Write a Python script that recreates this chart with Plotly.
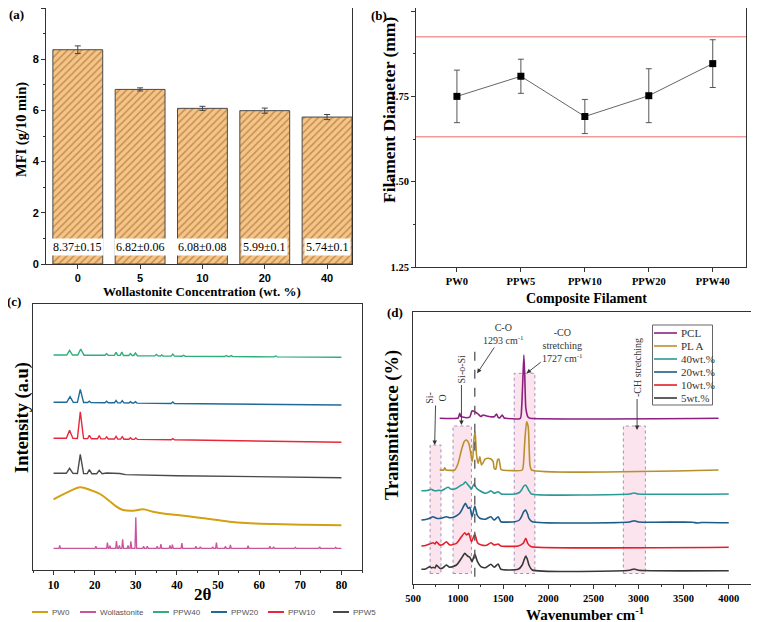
import plotly.graph_objects as go

W, H = 759, 622
OFF = 8  # the page body shifts the figure by this many pixels
SERIF = "Liberation Serif"
SANS = "Liberation Sans"
AX = "#333333"


def PX(x):
    return min(max((x - OFF) / W, 0), 1)


def PY(y):
    return min(max(1 - (y - OFF) / H, 0), 1)


# ---------------- (a) melt flow index ----------------
mfi_conc = ["0", "5", "10", "20", "40"]
mfi_mean = [8.37, 6.82, 6.08, 5.99, 5.74]
mfi_err = [0.15, 0.06, 0.08, 0.10, 0.10]
mfi_label_level = 0.67

# ---------------- (b) filament diameter ----------------
filaments = ["PW0", "PPW5", "PPW10", "PPW20", "PPW40"]
diam_mean = [1.750, 1.809, 1.691, 1.752, 1.846]
diam_err = [0.077, 0.050, 0.050, 0.079, 0.070]
diam_limits = [1.632, 1.925]

# ---------------- (c) XRD (offset, arbitrary units) ----------------
xrd_names = ["PW0", "Wollastonite", "PPW40", "PPW20", "PPW10", "PPW5"]
xrd_colors = ["#d4a012", "#c8559c", "#2fae7c", "#1f6b98", "#e8283a", "#4a4a4a"]

pw0_xy = [(10, 70.7), (13.2, 77.3), (16.5, 82.7), (18.9, 80.0), (21.3, 76.0),
          (23.3, 70.0), (25.3, 63.3), (26.9, 60.0), (29.4, 59.3), (31.8, 60.7),
          (34.2, 58.3), (37.5, 56.0), (40.7, 54.7), (45.5, 52.3), (52.8, 48.3),
          (56.8, 47.0), (63.3, 46.0), (71.3, 45.3), (80, 44.7)]

wol_base = 21.7
wol_peaks = [(11.5, 3), (20.3, 2), (23.1, 5.6), (23.7, 2.7), (25.3, 7.3), (26.0, 3),
             (26.8, 9), (28.1, 3), (28.8, 7), (30.0, 31), (31.9, 2), (32.8, 2),
             (35.2, 2), (36.1, 4.3), (38.3, 3), (38.9, 3.7), (41.2, 5.3), (44.6, 2),
             (45.7, 1.5), (48.7, 1.5), (49.6, 5.7), (51.8, 2), (53.0, 3.3), (57.3, 2.7),
             (62.6, 2), (63.5, 1.5), (68.8, 1), (74.7, 1.5), (78.6, 1)]

ppw40_xy = [(10, 215), (13.2, 215), (13.9, 219.7), (14.6, 215), (15.9, 215), (16.6, 221),
            (17.4, 214.8), (22.5, 214.7), (22.9, 216.2), (23.3, 214.7), (24.8, 214.6),
            (25.2, 217.6), (25.6, 214.6), (26.2, 214.6), (26.6, 217.9), (27.0, 214.5),
            (28.3, 214.5), (28.7, 216.5), (29.1, 214.5), (29.5, 214.5), (29.9, 217),
            (30.4, 214.3), (34.6, 214.1), (35.0, 215.6), (35.4, 214.1), (36.0, 214.0),
            (36.3, 215), (36.6, 214), (38.6, 213.9), (39.0, 215.9), (39.4, 213.9),
            (41.2, 213.8), (41.6, 214.8), (42.0, 213.8), (51.6, 213.5), (52.0, 214.5),
            (52.4, 213.5), (52.8, 213.5), (53.2, 214.4), (53.6, 213.4), (63.6, 213.1),
            (64.0, 214), (64.4, 213.1), (80, 212.8)]

ppw20_xy = [(10, 167.7), (13.2, 167.7), (14.0, 173.3), (14.8, 167.6), (15.8, 167.6),
            (16.5, 180.7), (17.3, 167.5), (18.3, 167.5), (18.7, 168.8), (19.1, 167.5),
            (22.5, 167.3), (22.9, 168.8), (23.3, 167.3), (24.8, 167.2), (25.2, 169.5),
            (25.6, 167.2), (26.3, 167.1), (26.7, 169.4), (27.1, 167.1), (28.3, 167.0),
            (28.7, 168.3), (29.1, 167.0), (29.5, 167.0), (29.9, 168.3), (30.3, 166.9),
            (38.6, 166.5), (39.0, 168.0), (39.4, 166.5), (80, 165.0)]

ppw10_xy = [(10, 131.7), (13.1, 131.7), (13.9, 139.7), (14.7, 131.6), (15.8, 131.5),
            (16.5, 158.2), (17.3, 131.4), (18.3, 131.4), (18.7, 134.7), (19.2, 131.3),
            (20.7, 131.2), (21.1, 134.5), (21.5, 131.2), (22.5, 131.1), (22.9, 133.1),
            (23.3, 131.0), (24.8, 131.0), (25.2, 133.7), (25.6, 130.9), (26.3, 130.9),
            (26.7, 133.3), (27.1, 130.8), (28.3, 130.7), (28.7, 132.2), (29.1, 130.7),
            (29.6, 130.6), (30.0, 132.1), (30.4, 130.6), (38.6, 130.2), (39.0, 131.4),
            (39.4, 130.2), (80, 127.7)]

ppw5_xy = [(10, 96.7), (13.1, 96.7), (13.9, 101.7), (14.7, 96.6), (15.8, 96.5),
           (16.5, 115.7), (17.3, 96.4), (18.2, 96.4), (18.7, 100.4), (19.3, 96.3),
           (20.5, 96.3), (21.1, 99.6), (21.8, 96.2), (22.9, 97.0), (26.1, 96.5),
           (27.5, 95.4), (40, 94.3), (80, 92.3)]

# ---------------- (d) FTIR (offset, arbitrary units) ----------------
ftir_names = ["PCL", "PL A", "40wt.%", "20wt.%", "10wt.%", "5wt.%"]
ftir_colors = ["#8e1f80", "#b8902e", "#2a9a96", "#1d5c87", "#e41e2a", "#383838"]

pcl_xy = [(796, 165.7), (1000, 166), (1018, 170.7), (1030, 167.5), (1050, 167),
          (1093, 166.3), (1130, 167), (1155, 173.3), (1185, 172.3), (1222, 170),
          (1250, 167.5), (1278, 169), (1315, 168), (1400, 167.3), (1426, 170),
          (1445, 166.5), (1463, 166.3), (1489, 169), (1510, 166), (1526, 165.7),
          (1690, 165.7), (1705, 177.3), (1718, 205), (1729, 229), (1740, 205),
          (1751, 175.7), (1777, 166.7), (1800, 165.7), (3887, 165.7)]

pla_xy = [(796, 114), (840, 114), (852, 116.3), (865, 114), (963, 114), (1000, 120.7),
          (1037, 134), (1067, 142.3), (1093, 144), (1118, 140.7), (1141, 130.7),
          (1155, 122.3), (1165, 128), (1174, 144), (1189, 152.3), (1197, 140),
          (1204, 129), (1222, 120.7), (1241, 127.3), (1259, 119), (1278, 121.3),
          (1296, 124.7), (1326, 125.7), (1363, 125), (1389, 122.3), (1400, 115.7),
          (1418, 114.7), (1437, 124), (1452, 125), (1474, 114.7), (1489, 114),
          (1711, 114), (1728, 125), (1740, 144), (1759, 162.3), (1777, 157.3),
          (1790, 130), (1796, 119), (1814, 114), (3887, 114)]

w40_xy = [(593, 93.3), (660, 93.5), (704, 94.7), (730, 93.5), (760, 93.3), (790, 93.8),
          (815, 93.3), (850, 95), (889, 96.7), (920, 95), (944, 94.7), (982, 95.7),
          (1037, 99), (1060, 100), (1081, 102.3), (1111, 99), (1130, 97), (1148, 94.7),
          (1165, 98), (1178, 100), (1204, 95.7), (1241, 93.3), (1303, 90.7),
          (1340, 92), (1363, 93.3), (1400, 90.7), (1444, 92.3), (1481, 90),
          (1629, 90), (1680, 91.5), (1703, 94), (1725, 97.5), (1748, 99), (1770, 96),
          (1785, 93.3), (1814, 90), (2900, 90), (2950, 91), (3000, 90), (4000, 90)]

w20_xy = [(593, 64), (640, 64.5), (685, 65.7), (722, 67.3), (760, 65.7), (815, 65.7),
          (870, 67.3), (907, 66.3), (963, 67.3), (1018, 70.7), (1044, 74.7),
          (1081, 80.7), (1111, 75.7), (1130, 76.7), (1155, 67.3), (1185, 78),
          (1211, 69), (1241, 65.7), (1303, 64.7), (1363, 67.3), (1400, 64),
          (1444, 67.3), (1474, 62.3), (1629, 62.3), (1680, 64), (1703, 67.3),
          (1725, 72), (1748, 74), (1770, 70), (1785, 65.7), (1822, 62.3), (2900, 62),
          (2950, 63.3), (3000, 62), (3600, 61.8), (3650, 61), (3700, 61.5), (4000, 61.3)]

w10_xy = [(593, 38), (640, 38.5), (685, 40), (722, 41.3), (745, 40), (760, 42.3),
          (796, 39), (830, 39.5), (870, 42.3), (907, 39), (982, 40.7), (1037, 47.3),
          (1074, 51.3), (1093, 49), (1118, 50.7), (1148, 42.3), (1185, 49.7),
          (1215, 41.3), (1259, 39), (1315, 38.7), (1363, 41.3), (1400, 39),
          (1444, 40), (1474, 38), (1666, 38), (1722, 40.7), (1751, 45.7), (1770, 41),
          (1785, 39), (1814, 37.3), (4000, 36.7)]

w5_xy = [(593, 14.7), (640, 15), (685, 17.3), (705, 16), (722, 16.7), (745, 16),
         (760, 19), (796, 15.7), (830, 16), (870, 19), (907, 16.7), (982, 19),
         (1037, 25.7), (1074, 30.7), (1104, 28), (1130, 26.7), (1155, 22.3),
         (1185, 30), (1215, 22.3), (1252, 17.3), (1303, 16.3), (1363, 19.7),
         (1400, 16.7), (1444, 20), (1474, 14.7), (1666, 14.7), (1711, 19),
         (1735, 25), (1751, 28), (1770, 24), (1785, 19), (1822, 14), (2900, 13.7),
         (2950, 15), (3000, 13.7), (4000, 13.3)]

# band boxes: (label, x0, x1, top level)
ftir_bands = [("Si-O", 690, 810, 139), ("Si-O-Si", 944, 1148, 158),
              ("-CO", 1622, 1851, 210.7), ("-CH", 2832, 3076, 158)]
band_bottom = 10.5
co_line_x = 1185

fig = go.Figure()

# ---- (a) ----
fig.add_trace(go.Bar(
    x=mfi_conc, y=mfi_mean, xaxis="x", yaxis="y", width=0.8,
    marker=dict(color="#f6c585", line=dict(color="#4a4a4a", width=1),
                pattern=dict(shape="/", fillmode="overlay", fgcolor="#8d5a2b",
                             size=5, solidity=0.3)),
    error_y=dict(type="data", array=mfi_err, color="#444", thickness=1, width=3),
    showlegend=False))

# ---- (b) ----
fig.add_trace(go.Scatter(
    x=filaments, y=diam_mean, xaxis="x2", yaxis="y2", mode="lines+markers",
    line=dict(color="#666", width=1),
    marker=dict(symbol="square", size=7, color="black"),
    error_y=dict(type="data", array=diam_err, color="#555", thickness=1, width=3),
    showlegend=False))

# ---- (c) ----
wol_x, wol_y = [10], [wol_base]
for c, h in wol_peaks:
    wol_x += [c - 0.2, c, c + 0.2]
    wol_y += [wol_base, wol_base + h, wol_base]
wol_x.append(80)
wol_y.append(wol_base)

xrd_series = [
    ([p[0] for p in pw0_xy], [p[1] for p in pw0_xy], "spline", 2),
    (wol_x, wol_y, "linear", 1.3),
    ([p[0] for p in ppw40_xy], [p[1] for p in ppw40_xy], "linear", 1.4),
    ([p[0] for p in ppw20_xy], [p[1] for p in ppw20_xy], "linear", 1.4),
    ([p[0] for p in ppw10_xy], [p[1] for p in ppw10_xy], "linear", 1.4),
    ([p[0] for p in ppw5_xy], [p[1] for p in ppw5_xy], "linear", 1.4),
]
for (xs, ys, shp, lw), name, col in zip(xrd_series, xrd_names, xrd_colors):
    fig.add_trace(go.Scatter(x=xs, y=ys, xaxis="x3", yaxis="y3", mode="lines",
                             name=name, line=dict(color=col, width=lw, shape=shp),
                             showlegend=False))

# ---- (d) ----
ftir_series = [pcl_xy, pla_xy, w40_xy, w20_xy, w10_xy, w5_xy]
for xy, name, col in zip(ftir_series, ftir_names, ftir_colors):
    fig.add_trace(go.Scatter(x=[p[0] for p in xy], y=[p[1] for p in xy],
                             xaxis="x4", yaxis="y4", mode="lines", name=name,
                             line=dict(color=col, width=1.6, shape="spline", smoothing=0.5),
                             showlegend=False))

shapes = []
annotations = []


def ptext(txt, cx, cy, font, angle=0, xanchor="center"):
    return dict(x=PX(cx), y=PY(cy), xref="paper", yref="paper", text=txt,
                textangle=angle, showarrow=False, xanchor=xanchor, yanchor="middle",
                font=font)


# (a) value labels
for i, (m, e) in enumerate(zip(mfi_mean, mfi_err)):
    annotations.append(dict(x=i, y=mfi_label_level, xref="x", yref="y",
                            text=f"{m:.2f}±{e:g}", showarrow=False,
                            xanchor="center", yanchor="middle",
                            bgcolor="white", borderpad=1,
                            font=dict(family=SERIF, size=12, color="black")))

# (b) limit lines
for lim in diam_limits:
    shapes.append(dict(type="line", xref="x2 domain", yref="y2", x0=0, x1=1,
                       y0=lim, y1=lim, line=dict(color="#f29b9b", width=1.5)))

# (d) band boxes and C-O line
for _, x0, x1, top in ftir_bands:
    shapes.append(dict(type="rect", xref="x4", yref="y4", x0=x0, x1=x1,
                       y0=band_bottom, y1=top, layer="below",
                       fillcolor="rgba(248,196,218,0.45)",
                       line=dict(color="#a390b8", width=1, dash="dot")))
shapes.append(dict(type="line", xref="x4", yref="y4", x0=co_line_x, x1=co_line_x,
                   y0=7.3, y1=233.3, line=dict(color="#555", width=1.3, dash="dash")))

# (d) labels with arrows: text, head (x, y), text centre (ax, ay), angle
afont = dict(family=SERIF, size=10, color="#333")
ftir_notes = [
    ("Si-<br>O", 740, 139, 752, 186, -90),
    ("Si-o-Si", 1037, 159, 1037, 215, -90),
    ("C-O<br>1293 cm<sup>-1</sup>", 1211, 210.7, 1500, 250, 0),
    ("-CO<br>stretching<br>1727 cm<sup>-1</sup>", 1759, 210.7, 2160, 239, 0),
    ("-CH stretching", 2984, 154, 2984, 216, -90),
]
for txt, hx, hy, tx, ty, ang in ftir_notes:
    annotations.append(dict(x=hx, y=hy, ax=tx, ay=ty, xref="x4", yref="y4",
                            axref="x4", ayref="y4", text=txt, textangle=ang,
                            showarrow=True, arrowhead=2, arrowsize=1, arrowwidth=0.9,
                            arrowcolor="#333", font=afont))

# (c) legend row (drawn in paper space)
c_leg_x = [32, 80, 153, 211, 268, 333]
c_leg_y = 612
for name, col, lx in zip(xrd_names, xrd_colors, c_leg_x):
    shapes.append(dict(type="line", xref="paper", yref="paper", x0=PX(lx), x1=PX(lx + 16),
                       y0=PY(c_leg_y), y1=PY(c_leg_y), line=dict(color=col, width=2)))
    annotations.append(ptext(name, lx + 18, c_leg_y,
                             dict(family=SANS, size=8, color="#555"), xanchor="left"))

# (d) legend box
shapes.append(dict(type="rect", xref="paper", yref="paper", x0=PX(652.5), x1=PX(712.5),
                   y0=PY(405), y1=PY(325), line=dict(color="#666", width=1),
                   fillcolor="white"))
d_leg_y = [333, 346, 359, 372, 385, 398]
for name, col, ly in zip(ftir_names, ftir_colors, d_leg_y):
    shapes.append(dict(type="line", xref="paper", yref="paper", x0=PX(654), x1=PX(677),
                       y0=PY(ly), y1=PY(ly), line=dict(color=col, width=1.6)))
    annotations.append(ptext(name, 678.5, ly, dict(family=SERIF, size=11, color="#333"),
                             xanchor="left"))

# panel letters
for lab, lx, ly in [("(a)", 16, 15), ("(b)", 379, 16), ("(c)", 14, 301), ("(d)", 395, 312)]:
    annotations.append(ptext(lab, lx, ly, dict(family=SERIF, size=13, color="black",
                                               weight="bold")))

# axis titles (text, centre x, centre y, size, angle)
axis_titles = [
    ("Wollastonite Concentration (wt. %)", 202, 291, 13, 0),
    ("MFI (g/10 min)", 21, 130, 14.5, -90),
    ("Composite Filament", 586, 298, 14, 0),
    ("Filament Diameter (mm)", 389, 110, 17.5, -90),
    ("2θ", 203, 594, 17, 0),
    ("Intensity (a.u)", 22, 418, 18.5, -90),
    ("Wavenumber cm<sup>-1</sup>", 585, 614, 15, 0),
    ("Transmittance (%)", 392, 425, 18.5, -90),
]
for txt, cx, cy, sz, ang in axis_titles:
    annotations.append(ptext(txt, cx, cy, dict(family=SERIF, size=sz, color="black",
                                               weight="bold"), angle=ang))


def axis(**kw):
    base = dict(showline=True, linecolor=AX, linewidth=1, mirror=True, ticks="outside",
                ticklen=4, tickcolor=AX, showgrid=False, zeroline=False, automargin=False)
    base.update(kw)
    return base


minor = dict(ticklen=2, ticks="outside", tickcolor=AX)

fig.update_layout(
    template="none",
    width=W, height=H, margin=dict(l=0, r=0, t=0, b=0, autoexpand=False),
    paper_bgcolor="white", plot_bgcolor="white", showlegend=False,
    xaxis=axis(domain=[PX(46), PX(352)], anchor="y", type="category",
               range=[-0.51, 4.4],
               tickfont=dict(family=SANS, size=11, color="black", weight="bold")),
    yaxis=axis(domain=[PY(264), PY(6)], anchor="x", range=[0, 10], dtick=2,
               minor=dict(dtick=1, **minor),
               tickfont=dict(family=SANS, size=11, color="black", weight="bold")),
    xaxis2=axis(domain=[PX(416), PX(746)], anchor="y2", type="category",
                range=[-0.64, 4.52],
                tickfont=dict(family=SERIF, size=10.5, color="black", weight="bold")),
    yaxis2=axis(domain=[PY(267), PY(3)], anchor="x2", range=[1.25, 2.009],
                tickvals=[1.25, 1.5, 1.75, 2.0], tickformat=".2f",
                minor=dict(tickvals=[1.375, 1.625, 1.875], **minor),
                tickfont=dict(family=SERIF, size=10.5, color="black", weight="bold")),
    xaxis3=axis(domain=[PX(33), PX(362)], anchor="y3", range=[5, 85], dtick=10, tick0=0,
                minor=dict(dtick=5, **minor),
                tickfont=dict(family=SERIF, size=11.5, color="black", weight="bold")),
    yaxis3=axis(domain=[PY(570), PY(304)], anchor="x3", range=[0, 266],
                showticklabels=False, ticks=""),
    xaxis4=axis(domain=[PX(413), PX(752)], anchor="y4", range=[500, 4258], dtick=500,
                tick0=0, minor=dict(dtick=250, **minor),
                tickfont=dict(family=SERIF, size=10.5, color="black", weight="bold")),
    yaxis4=axis(domain=[PY(584), PY(312)], anchor="x4", range=[0, 272],
                showticklabels=False, ticks=""),
    shapes=shapes,
    annotations=annotations,
)

fig.write_html("out.html")
